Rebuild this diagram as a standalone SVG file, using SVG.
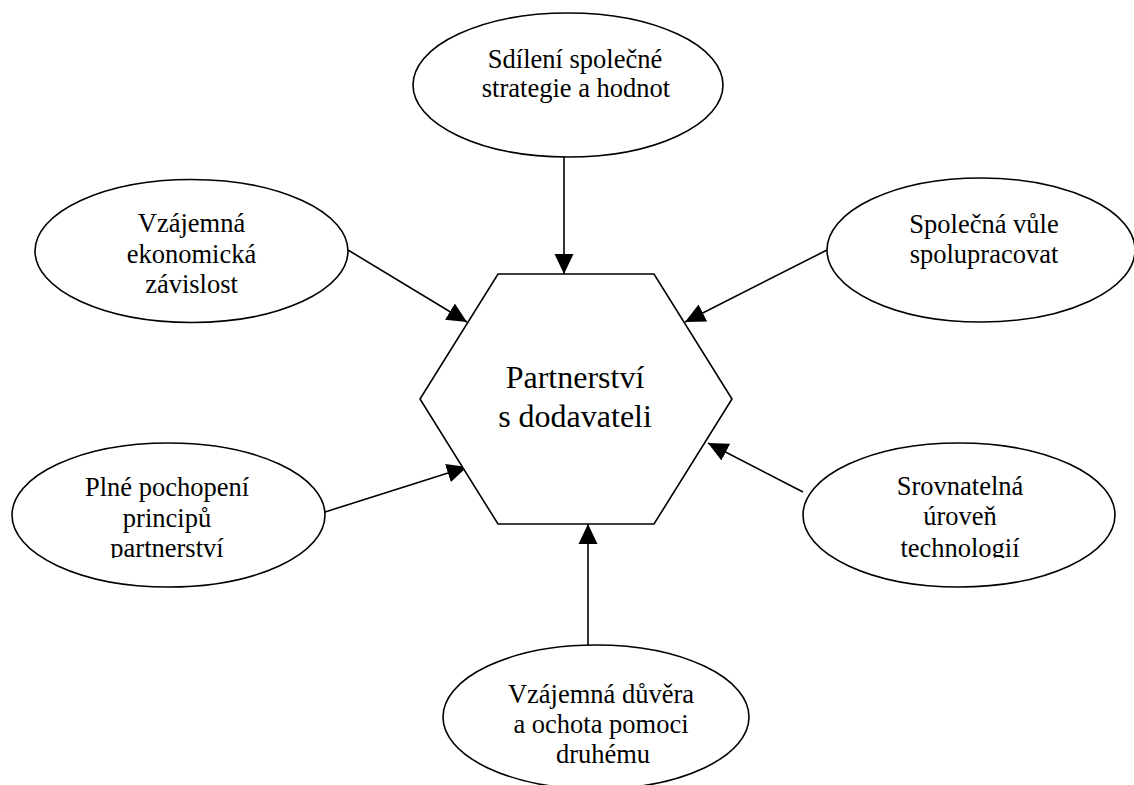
<svg xmlns="http://www.w3.org/2000/svg" width="1134" height="785" viewBox="0 0 1134 785">
  <style>
    .shape { fill: #ffffff; stroke: #000000; stroke-width: 1.6; }
    .link { fill: none; stroke: #000000; stroke-width: 1.6; marker-end: url(#head); }
    .lbl { font-family: "Liberation Serif", "Times New Roman", serif; font-size: 26.5px; fill: #000000; text-anchor: middle; }
    .hub { font-family: "Liberation Serif", "Times New Roman", serif; font-size: 32px; fill: #000000; text-anchor: middle; }
  </style>
  <defs>
    <marker id="head" viewBox="0 0 20 20" refX="20" refY="10" markerWidth="20" markerHeight="20" markerUnits="userSpaceOnUse" orient="auto">
      <path d="M0,0.5 L20,10 L0,19.5 z" fill="#000000"/>
    </marker>
    <!-- text frames cut off the last line's descenders -->
    <clipPath id="frameLeft"><rect x="0" y="420" width="340" height="138"/></clipPath>
    <clipPath id="frameRight"><rect x="790" y="420" width="344" height="138"/></clipPath>
  </defs>

  <rect width="1134" height="785" fill="#ffffff"/>

  <g id="connectors">
    <line class="link" x1="564" y1="156" x2="564" y2="274"/>
    <line class="link" x1="348" y1="250" x2="467" y2="322"/>
    <line class="link" x1="827" y1="250" x2="685" y2="322"/>
    <line class="link" x1="325" y1="512" x2="467" y2="467"/>
    <line class="link" x1="803" y1="492" x2="708" y2="443"/>
    <line class="link" x1="588" y1="645" x2="588" y2="524"/>
  </g>

  <g id="hub">
    <polygon class="shape" points="498,274 654,274 732,399 654,524 498,524 420,399"/>
    <text class="hub" x="575" y="388">Partnerství</text>
    <text class="hub" x="575" y="427">s dodavateli</text>
  </g>

  <g id="strategy">
    <ellipse class="shape" cx="568" cy="85" rx="155" ry="72"/>
    <text class="lbl" x="575" y="68">Sdílení společné</text>
    <text class="lbl" x="576" y="97">strategie a hodnot</text>
  </g>

  <g id="economic">
    <ellipse class="shape" cx="191.5" cy="251" rx="156.5" ry="71.5"/>
    <text class="lbl" x="191.5" y="232">Vzájemná</text>
    <text class="lbl" x="191.5" y="263">ekonomická</text>
    <text class="lbl" x="191.5" y="293">závislost</text>
  </g>

  <g id="will">
    <ellipse class="shape" cx="981" cy="250" rx="154" ry="72"/>
    <text class="lbl" x="984" y="233">Společná vůle</text>
    <text class="lbl" x="984" y="263">spolupracovat</text>
  </g>

  <g id="principles">
    <ellipse class="shape" cx="168.5" cy="515" rx="156.5" ry="72"/>
    <g clip-path="url(#frameLeft)">
      <text class="lbl" x="167" y="496">Plné pochopení</text>
      <text class="lbl" x="167" y="527">principů</text>
      <text class="lbl" x="167" y="557">partnerství</text>
    </g>
  </g>

  <g id="technology">
    <ellipse class="shape" cx="959" cy="515" rx="156" ry="72"/>
    <g clip-path="url(#frameRight)">
      <text class="lbl" x="960" y="495">Srovnatelná</text>
      <text class="lbl" x="960" y="525">úroveň</text>
      <text class="lbl" x="960" y="557">technologií</text>
    </g>
  </g>

  <g id="trust">
    <ellipse class="shape" cx="596" cy="717" rx="153" ry="72"/>
    <text class="lbl" x="601" y="703">Vzájemná důvěra</text>
    <text class="lbl" x="601" y="733">a ochota pomoci</text>
    <text class="lbl" x="603" y="763">druhému</text>
  </g>
</svg>
